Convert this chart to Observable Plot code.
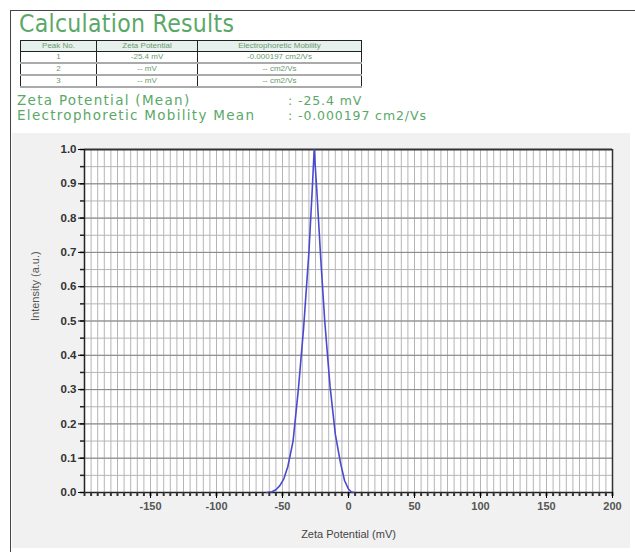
<!DOCTYPE html>
<html><head><meta charset="utf-8">
<script src="https://cdn.jsdelivr.net/npm/d3@7"></script>
<script src="https://cdn.jsdelivr.net/npm/@observablehq/plot@0.6"></script>
<style>
html,body{margin:0;padding:0;background:#fff;width:635px;height:552px;overflow:hidden;font-family:"Liberation Sans",Arial,sans-serif;}
#wrap{position:relative;width:635px;height:552px;}
.abs{position:absolute;white-space:nowrap;}
#border{position:absolute;left:10px;top:10px;width:640px;height:560px;border-left:1px solid #444;border-top:1px solid #444;}
#title{left:19px;top:10px;font-size:24px;color:#5aa868;letter-spacing:0.3px;font-family:"DejaVu Sans",sans-serif;transform:scaleX(0.92);transform-origin:left;}
table{position:absolute;left:20px;top:40px;border-collapse:collapse;font-size:8px;color:#6a9a70;}
td,th{padding:0;text-align:center;font-weight:normal;height:10px;line-height:10px;}
th{background:#e6f0ec;border:1.5px solid #222;height:10px;}
td{border-left:1.5px solid #222;border-right:1.5px solid #222;border-bottom:2px solid #aaa;}
.stat{font-size:13.5px;color:#5aa868;font-family:"DejaVu Sans",sans-serif;letter-spacing:1.3px;}
.val{font-size:12.5px;color:#5aa868;font-family:"DejaVu Sans",sans-serif;letter-spacing:0.9px;}
#chart{position:absolute;left:12px;top:133px;}
</style></head>
<body><div id="wrap">
<div id="border"></div>
<div class="abs" id="title"></div>
<table id="tbl"></table>
<div class="abs stat" style="left:17px;top:92px" id="s1"></div>
<div class="abs stat" style="left:17px;top:107px" id="s2"></div>
<div class="abs val" style="left:288px;top:93px" id="v1"></div>
<div class="abs val" style="left:288px;top:108px" id="v2"></div>
<div id="chart"></div>
</div>
<script>
// ---- data ----
const titleText = "Calculation Results";
const tableHeader = ["Peak No.", "Zeta Potential", "Electrophoretic Mobility"];
const peakNo = ["1", "2", "3"];
const peakZeta = ["-25.4 mV", "-- mV", "-- mV"];
const peakMobility = ["-0.000197 cm2/Vs", "-- cm2/Vs", "-- cm2/Vs"];
const statLabels = ["Zeta Potential (Mean)", "Electrophoretic Mobility Mean"];
const statValues = [":  -25.4 mV", ":  -0.000197 cm2/Vs"];

const zeta = [-62, -58, -55, -52, -49, -46, -42, -38, -34, -30, -27.5, -26, -24, -21, -18, -14, -10, -6, -3, 0, 2, 4];
const intensity = [0, 0.002, 0.008, 0.02, 0.04, 0.075, 0.15, 0.30, 0.48, 0.70, 0.88, 1.0, 0.88, 0.68, 0.50, 0.31, 0.17, 0.085, 0.035, 0.01, 0.002, 0];

const xTicks = [-150, -100, -50, 0, 50, 100, 150, 200];
const yTicks = [0, 0.1, 0.2, 0.3, 0.4, 0.5, 0.6, 0.7, 0.8, 0.9, 1.0];
const xLabel = "Zeta Potential (mV)";
const yLabel = "Intensity (a.u.)";

// ---- header ----
document.getElementById("title").textContent = titleText;
const tbl = document.getElementById("tbl");
const widths = [75, 100, 163];
let hr = "<tr>" + tableHeader.map((h,i)=>`<th style="width:${widths[i]}px">${h}</th>`).join("") + "</tr>";
let rows = peakNo.map((p,i)=>`<tr><td>${p}</td><td>${peakZeta[i]}</td><td>${peakMobility[i]}</td></tr>`).join("");
tbl.innerHTML = hr + rows;
document.getElementById("s1").textContent = statLabels[0];
document.getElementById("s2").textContent = statLabels[1];
document.getElementById("v1").textContent = statValues[0];
document.getElementById("v2").textContent = statValues[1];

// ---- chart ----
const data = zeta.map((z,i)=>({z, v: intensity[i]}));
const gridX = d3.range(-200, 201, 5);
const gridY = d3.range(0, 1.0001, 0.05).map(d=>+d.toFixed(2));

const chart = Plot.plot({
  width: 618, height: 415,
  marginLeft: 72, marginRight: 18, marginTop: 16, marginBottom: 56,
  style: {background: "#f1f1f1", fontFamily: "Liberation Sans, Arial, sans-serif"},
  x: {domain: [-200, 200], label: null},
  y: {domain: [0, 1], label: null},
  marks: [
    Plot.frame({fill: "white", stroke: null}),
    Plot.ruleX(gridX, {stroke: "#a8a8a8", strokeWidth: 1, strokeOpacity: 0.85}),
    Plot.ruleY(gridY, {stroke: "#b5b5b5", strokeWidth: 1}),
    Plot.ruleY(yTicks, {stroke: "#888", strokeWidth: 1}),
    Plot.ruleY([1], {stroke: "#333", strokeWidth: 2}),
    Plot.ruleX([200], {stroke: "#333", strokeWidth: 1.5}),
    Plot.ruleX([-200], {stroke: "#222", strokeWidth: 1.5}),
    Plot.ruleY([0], {stroke: "#222", strokeWidth: 1.5}),
    Plot.line(data, {x: "z", y: "v", stroke: "#4a4ad0", strokeWidth: 1.6}),
    Plot.axisX(gridX, {tickSize: 4, text: null, label: null, stroke: "#333", strokeWidth: 2}),
    Plot.axisX(xTicks, {tickSize: 6, tickFormat: d=>String(d), fontSize: 11, fontWeight: "bold", fill: "#555", tickPadding: 4, label: null}),
    Plot.axisY(gridY, {tickSize: 4, text: null, label: null, stroke: "#222", strokeWidth: 1.5}),
    Plot.axisY(yTicks, {tickSize: 6, tickFormat: d=>d.toFixed(1), fontSize: 11.5, fontWeight: "bold", fill: "#333", tickPadding: 2, label: null}),
    Plot.text([xLabel], {frameAnchor: "bottom", dy: 45, fontSize: 11, fill: "#444"}),
    Plot.text([yLabel], {frameAnchor: "left", dx: -49, rotate: -90, fontSize: 11, fill: "#555"})
  ]
});
document.getElementById("chart").appendChild(chart);
</script>
</body></html>
